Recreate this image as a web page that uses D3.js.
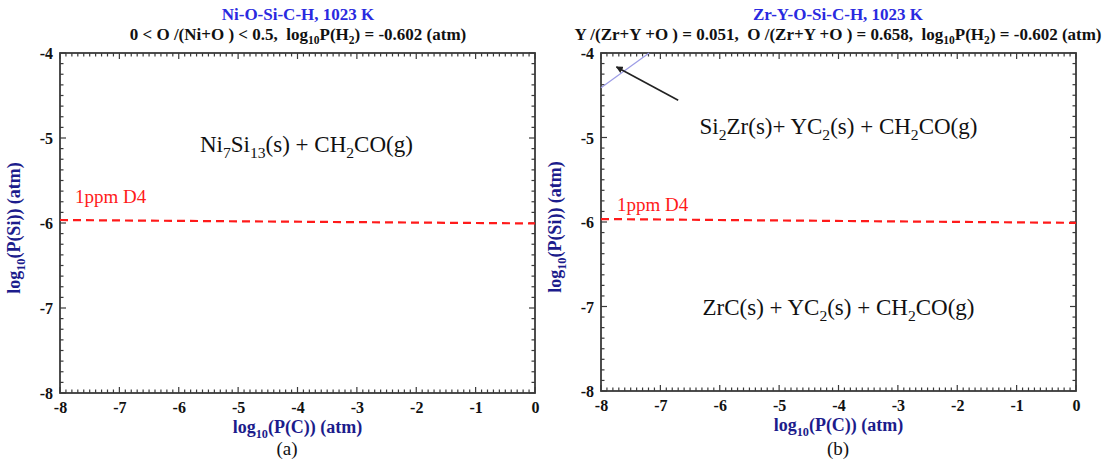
<!DOCTYPE html>
<html>
<head>
<meta charset="utf-8">
<script src="https://cdn.jsdelivr.net/npm/d3@7"></script>
<style>
  html, body { margin: 0; padding: 0; background: #fff; }
  svg { display: block; }
  text { font-family: "Liberation Serif", "Times New Roman", serif; white-space: pre; }
</style>
</head>
<body>
<svg id="fig" width="1105" height="461"></svg>
<script>
// Axis ranges and tick labels (log10 partial pressures, atm)
const xMajorTicks = [-8, -7, -6, -5, -4, -3, -2, -1, 0];
const yMajorTicks = [-4, -5, -6, -7, -8];
const xDomain = [-8, 0];
const yDomain = [-8, -4];

// 1 ppm D4 reference line: [log10 P(C), log10 P(Si)]
const d4LineA = [[-8, -5.965], [0, -6.005]];
const d4LineB = [[-8, -5.965], [0, -6.01]];

// Phase boundary in the Zr-Y system (top-left corner)
const zrBoundary = [[-8, -4.41], [-7.19, -4.0]];
// Arrow pointing to that boundary: tail, tip
const zrArrow = [[-6.7, -4.56], [-7.74, -4.165]];

// Stability-field labels: [x, y, parts]  (parts: [text, kind])
const regionsA = [
  { x: -3.85, y: -5.17, parts: [["Ni", "n"], ["7", "s"], ["Si", "n"], ["13", "s"], ["(s) + CH", "n"], ["2", "s"], ["CO(g)", "n"]] }
];
const regionsB = [
  { x: -4.0, y: -4.96, parts: [["Si", "n"], ["2", "s"], ["Zr(s)+ YC", "n"], ["2", "s"], ["(s) + CH", "n"], ["2", "s"], ["CO(g)", "n"]] },
  { x: -4.0, y: -7.1, parts: [["ZrC(s) + YC", "n"], ["2", "s"], ["(s) + CH", "n"], ["2", "s"], ["CO(g)", "n"]] }
];

const titlesA = {
  main: "Ni-O-Si-C-H, 1023 K",
  sub: [["0 < O /(Ni+O ) < 0.5,  log", "n"], ["10", "s"], ["P(H", "n"], ["2", "s"], [") = -0.602 (atm)", "n"]],
  tag: "(a)"
};
const titlesB = {
  main: "Zr-Y-O-Si-C-H, 1023 K",
  sub: [["Y /(Zr+Y +O ) = 0.051,  O /(Zr+Y +O ) = 0.658,  log", "n"], ["10", "s"], ["P(H", "n"], ["2", "s"], [") = -0.602 (atm)", "n"]],
  tag: "(b)"
};
const yTitle = [["log", "n"], ["10", "s"], ["(P(Si)) (atm)", "n"]];
const xTitle = [["log", "n"], ["10", "s"], ["(P(C)) (atm)", "n"]];

const svg = d3.select("#fig");
const axisColor = "#3a3a3a";
const navy = "#1c1c8c";

// Write text made of normal and subscript runs
function richText(sel, parts, size) {
  let shifted = false;
  parts.forEach(([t, kind]) => {
    const ts = sel.append("tspan").text(t);
    if (kind === "s") {
      ts.attr("font-size", size * 0.68).attr("dy", shifted ? 0 : size * 0.25);
      shifted = true;
    } else {
      ts.attr("dy", shifted ? -size * 0.25 : 0);
      shifted = false;
    }
  });
  return sel;
}

function drawPanel(cfg) {
  const { left, right, top, bottom } = cfg;
  const x = d3.scaleLinear().domain(xDomain).range([left, right]);
  const y = d3.scaleLinear().domain(yDomain).range([bottom, top]);
  const g = svg.append("g");

  // titles
  g.append("text").attr("x", cfg.cx).attr("y", 20).attr("text-anchor", "middle")
    .attr("font-size", 17).attr("font-weight", "bold").attr("fill", "#2a2ae0")
    .text(cfg.titles.main);
  richText(g.append("text").attr("x", cfg.cx).attr("y", 40).attr("text-anchor", "middle")
    .attr("font-size", 17).attr("font-weight", "bold").attr("fill", "#111"), cfg.titles.sub, 17);

  // minor and major ticks, drawn inward on all four sides
  const xMinor = d3.range(-8, 0.001, 0.1).map(v => +v.toFixed(2));
  const yMinor = d3.range(-8, -3.999, 0.125);
  const isMajor = v => Math.abs(v - Math.round(v)) < 1e-6;
  const tickG = g.append("g").attr("stroke", axisColor).attr("stroke-width", 1.2);
  xMinor.forEach(v => {
    const len = isMajor(v) ? 6 : 3.5;
    tickG.append("line").attr("x1", x(v)).attr("x2", x(v)).attr("y1", bottom).attr("y2", bottom - len);
    tickG.append("line").attr("x1", x(v)).attr("x2", x(v)).attr("y1", top).attr("y2", top + len);
  });
  yMinor.forEach(v => {
    const len = isMajor(v) ? 6 : 3.5;
    tickG.append("line").attr("y1", y(v)).attr("y2", y(v)).attr("x1", left).attr("x2", left + len);
    tickG.append("line").attr("y1", y(v)).attr("y2", y(v)).attr("x1", right).attr("x2", right - len);
  });

  // frame
  g.append("rect").attr("x", left).attr("y", top).attr("width", right - left).attr("height", bottom - top)
    .attr("fill", "none").attr("stroke", axisColor).attr("stroke-width", 1.8);

  // tick labels via d3 axes (lines hidden, labels kept)
  const fmt = d => String(d);
  const xAxis = g.append("g").attr("transform", `translate(0,${bottom})`)
    .call(d3.axisBottom(x).tickValues(xMajorTicks).tickFormat(fmt).tickSize(0).tickPadding(9));
  const yAxis = g.append("g").attr("transform", `translate(${left},0)`)
    .call(d3.axisLeft(y).tickValues(yMajorTicks).tickFormat(fmt).tickSize(0).tickPadding(7));
  [xAxis, yAxis].forEach(a => {
    a.select(".domain").remove();
    a.attr("font-family", "Liberation Serif, serif");
    a.selectAll("text").attr("font-size", 16).attr("font-weight", "bold").attr("fill", "#111");
  });
  yAxis.selectAll("text").attr("dy", "0.35em");

  // axis titles
  richText(g.append("text").attr("x", (left + right) / 2).attr("y", bottom + 40).attr("text-anchor", "middle")
    .attr("font-size", 18).attr("font-weight", "bold").attr("fill", navy), xTitle, 18);
  richText(g.append("text").attr("transform", `translate(${cfg.yTitleX},${(top + bottom) / 2 + 5}) rotate(-90)`)
    .attr("text-anchor", "middle").attr("font-size", 18).attr("font-weight", "bold").attr("fill", navy), yTitle, 18);

  // panel tag
  g.append("text").attr("x", cfg.tagX).attr("y", 455).attr("text-anchor", "middle")
    .attr("font-size", 19).attr("fill", "#111").text(cfg.titles.tag);

  const line = d3.line().x(d => x(d[0])).y(d => y(d[1]));

  // extra boundary lines and arrows
  if (cfg.boundary) {
    g.append("path").attr("d", line(cfg.boundary)).attr("fill", "none")
      .attr("stroke", "#9c9ce6").attr("stroke-width", 1.2);
  }
  if (cfg.arrow) {
    const [t, h] = cfg.arrow;
    g.append("line").attr("x1", x(t[0])).attr("y1", y(t[1])).attr("x2", x(h[0])).attr("y2", y(h[1]))
      .attr("stroke", "#222").attr("stroke-width", 1.6).attr("marker-end", "url(#arrowHead)");
  }

  // 1ppm D4 reference line
  g.append("path").attr("d", line(cfg.d4)).attr("fill", "none").attr("stroke", "#ff1a1a")
    .attr("stroke-width", 2.2).attr("stroke-dasharray", "8,5");
  g.append("text").attr("x", x(-8) + cfg.d4LabelDx).attr("y", y(cfg.d4LabelY)).attr("font-size", 19)
    .attr("fill", "#ff1a1a").text("1ppm D4");

  // stability-field labels
  cfg.regions.forEach(r => {
    richText(g.append("text").attr("x", x(r.x)).attr("y", y(r.y)).attr("text-anchor", "middle")
      .attr("font-size", 23).attr("fill", "#111"), r.parts, 23);
  });
}

svg.append("defs").append("marker").attr("id", "arrowHead").attr("viewBox", "0 0 10 10")
  .attr("refX", 9).attr("refY", 5).attr("markerWidth", 7).attr("markerHeight", 7)
  .attr("markerUnits", "userSpaceOnUse").attr("orient", "auto")
  .append("path").attr("d", "M0,0 L10,5 L0,10 Z").attr("fill", "#222");

drawPanel({
  left: 60, right: 535, top: 53, bottom: 393, cx: 298, yTitleX: 20, tagX: 287,
  titles: titlesA, d4: d4LineA, d4LabelDx: 15, d4LabelY: -5.76, regions: regionsA
});
drawPanel({
  left: 601, right: 1076, top: 53, bottom: 391, cx: 838, yTitleX: 561, tagX: 838,
  titles: titlesB, d4: d4LineB, d4LabelDx: 16, d4LabelY: -5.87, regions: regionsB,
  boundary: zrBoundary, arrow: zrArrow
});
</script>
</body>
</html>
